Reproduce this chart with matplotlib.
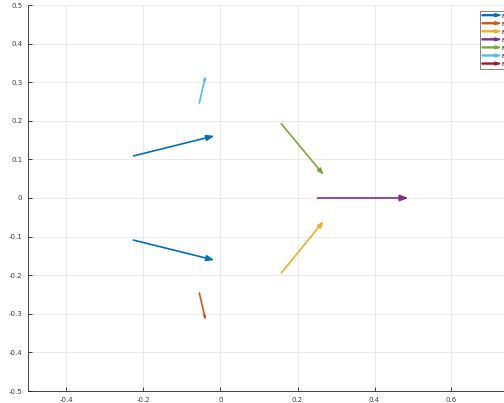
import matplotlib
matplotlib.use("Agg")
import matplotlib.pyplot as plt
import numpy as np
from matplotlib.patches import FancyArrow
from matplotlib.legend_handler import HandlerPatch

# series data: start points (x, y) and vector components (u, v)
labels = ["F1", "F2", "F3", "F4", "F5", "F6", "F7"]
colors = ["#0072BD", "#D95319", "#EDB120", "#7E2F8E", "#77AC30", "#4DBEEE", "#A2142F"]
s1_x = [-0.226, -0.226]; s1_y = [0.109, -0.109]; s1_u = [0.210, 0.210]; s1_v = [0.052, -0.052]
s2_x = [-0.055]; s2_y = [-0.246]; s2_u = [0.016]; s2_v = [-0.070]
s3_x = [0.158]; s3_y = [-0.194]; s3_u = [0.110]; s3_v = [0.134]
s4_x = [0.252]; s4_y = [0.0]; s4_u = [0.236]; s4_v = [0.0]
s5_x = [0.158]; s5_y = [0.192]; s5_u = [0.110]; s5_v = [-0.132]
s6_x = [-0.055]; s6_y = [0.246]; s6_u = [0.016]; s6_v = [0.070]
s7_x = []; s7_y = []; s7_u = []; s7_v = []
series = [(s1_x, s1_y, s1_u, s1_v), (s2_x, s2_y, s2_u, s2_v), (s3_x, s3_y, s3_u, s3_v),
          (s4_x, s4_y, s4_u, s4_v), (s5_x, s5_y, s5_u, s5_v), (s6_x, s6_y, s6_u, s6_v),
          (s7_x, s7_y, s7_u, s7_v)]

xticks = [-0.4, -0.2, 0, 0.2, 0.4, 0.6]
yticks = [-0.5, -0.4, -0.3, -0.2, -0.1, 0, 0.1, 0.2, 0.3, 0.4, 0.5]

W, H = 504, 403
fig = plt.figure(figsize=(W / 100, H / 100), dpi=100)
ax = fig.add_axes([28 / W, 12 / H, 500.5 / W, 386 / H])
ax.set_xlim(-0.5, 0.8)
ax.set_ylim(-0.5, 0.5)

for sp in ["top", "right"]:
    ax.spines[sp].set_visible(False)
for sp in ["left", "bottom"]:
    ax.spines[sp].set_color("#262626")
    ax.spines[sp].set_linewidth(0.6)

ax.set_xticks(xticks)
ax.set_xticklabels(["-0.4", "-0.2", "0", "0.2", "0.4", "0.6"])
ax.set_yticks(yticks)
ax.set_yticklabels(["-0.5", "-0.4", "-0.3", "-0.2", "-0.1", "0", "0.1", "0.2", "0.3", "0.4", "0.5"])
ax.tick_params(direction="in", length=3, width=0.6, labelsize=5, colors="#262626", labelcolor="#404040", pad=4)
ax.grid(True, color="#e6e6e6", linewidth=0.6)
ax.set_axisbelow(True)

fig.canvas.draw()
for (xs, ys, us, vs), c in zip(series, colors):
    for x, y, u, v in zip(xs, ys, us, vs):
        p0 = ax.transData.transform((x, y))
        p1 = ax.transData.transform((x + u, y + v))
        L = np.hypot(*(p1 - p0)) * 0.72  # points
        hl = 0.075 * L
        ax.annotate("", xy=(x + u, y + v), xytext=(x, y),
                    arrowprops=dict(arrowstyle="-|>,head_length=0.4,head_width=0.15",
                                    mutation_scale=hl / 0.4, lw=1.2, color=c,
                                    shrinkA=0, shrinkB=0))

def make_arrow(legend, orig_handle, xdescent, ydescent, width, height, fontsize):
    return FancyArrow(0, height / 2, width, 0, length_includes_head=True,
                      head_width=height * 0.6, head_length=width * 0.3, width=height * 0.2)

handles = [FancyArrow(0, 0, 1, 0, color=c) for c in colors]
leg = fig.legend(handles, labels, loc="upper left", bbox_to_anchor=(477 / W, (H - 8) / H),
                 handler_map={FancyArrow: HandlerPatch(patch_func=make_arrow)},
                 fontsize=4.5, frameon=True, fancybox=False, edgecolor="#262626",
                 handlelength=2.9, handleheight=0.8, labelspacing=0.4, borderpad=0.3,
                 handletextpad=0.2)
leg.get_frame().set_linewidth(0.5)

fig.savefig("out.png", dpi=100)
